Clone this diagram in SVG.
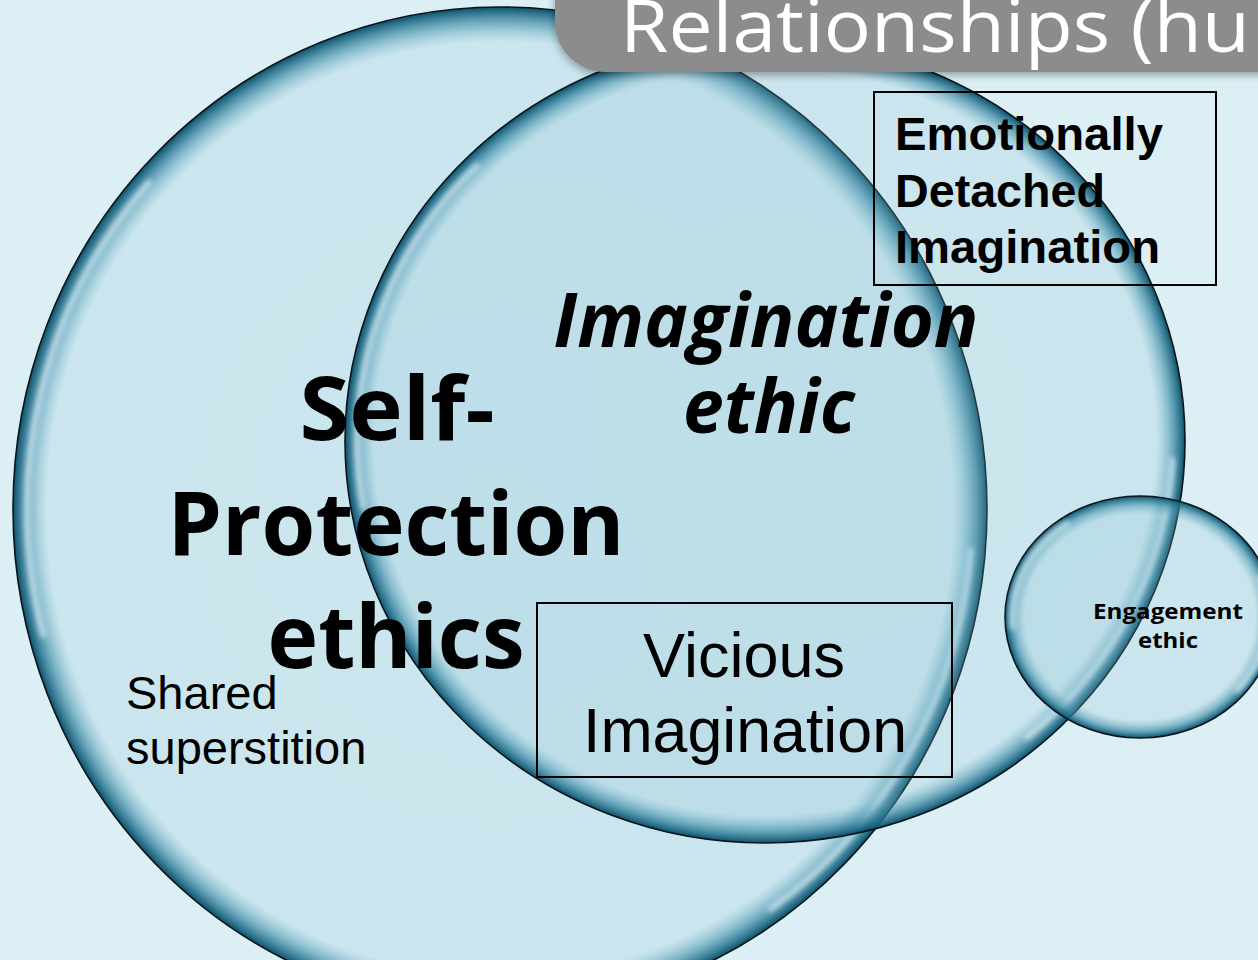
<svg xmlns="http://www.w3.org/2000/svg" width="1258" height="960" viewBox="0 0 1258 960">
<defs>
<radialGradient id="gradL" cx="0.5" cy="0.5" r="0.5">
  <stop offset="0" stop-color="#8cc3d3" stop-opacity="0.2"/>
  <stop offset="0.93" stop-color="#8cc3d3" stop-opacity="0.22"/>
  <stop offset="0.965" stop-color="#3f8faa" stop-opacity="0.6"/>
  <stop offset="0.99" stop-color="#1b6682" stop-opacity="0.9"/>
  <stop offset="1" stop-color="#0f4f66" stop-opacity="1"/>
</radialGradient>
<radialGradient id="gradS" cx="0.5" cy="0.5" r="0.5">
  <stop offset="0" stop-color="#8cc3d3" stop-opacity="0.2"/>
  <stop offset="0.85" stop-color="#8cc3d3" stop-opacity="0.24"/>
  <stop offset="0.93" stop-color="#3f8faa" stop-opacity="0.6"/>
  <stop offset="0.98" stop-color="#1b6682" stop-opacity="0.9"/>
  <stop offset="1" stop-color="#0f4f66" stop-opacity="1"/>
</radialGradient>
<filter id="blur" x="-20%" y="-20%" width="140%" height="140%"><feGaussianBlur stdDeviation="2.5"/></filter>
<filter id="shadow" x="-10%" y="-50%" width="120%" height="200%"><feDropShadow dx="0" dy="3" stdDeviation="4" flood-color="#000" flood-opacity="0.35"/></filter>
</defs>
<style>
.bubble{stroke:#08161c;stroke-width:1.6}
.hl{fill:none;stroke:#eefaff;stroke-width:6;stroke-opacity:0.6;stroke-linecap:round;filter:url(#blur)}
.box{fill:none;stroke:#000;stroke-width:2}
.cal{font-family:"Open Sans",Lato,sans-serif;font-weight:700;fill:#000;text-anchor:middle}
.ar{font-family:"Liberation Sans",Arial,sans-serif;fill:#000}
</style>
<rect width="1258" height="960" fill="#dcEff5"/>

<g id="connectors"></g>

<g id="bubble-self-protection">
  <ellipse class="bubble" cx="500" cy="509" rx="487" ry="502" fill="url(#gradL)"/>
  <path class="hl" d="M43,635 A473 488 0 0 1 148.5,182.5"/>
  <path class="hl" d="M971,551 A473 488 0 0 1 771,909"/>
</g>
<g id="bubble-imagination">
  <ellipse class="bubble" cx="765" cy="441" rx="420" ry="402" fill="url(#gradL)"/>
  <path class="hl" d="M363,507 A408 390 0 0 1 476.5,165.6"/>
  <path class="hl" d="M1172.4,460.3 A408 390 0 0 1 1027.3,737.2"/>
</g>
<g id="bubble-engagement">
  <ellipse class="bubble" cx="1140" cy="617" rx="135" ry="121" fill="url(#gradS)"/>
  <path class="hl" d="M1012.5,627 A128 114 0 0 1 1066.6,523.6"/>
  <path class="hl" d="M1260,578 A128 114 0 0 1 1238,690"/>
</g>

<g id="labels">
  <g id="label-self-protection">
    <text class="cal" font-size="88" x="397" y="440" textLength="195" lengthAdjust="spacingAndGlyphs">Self-</text>
    <text class="cal" font-size="88" x="396" y="555" textLength="457" lengthAdjust="spacingAndGlyphs">Protection</text>
    <text class="cal" font-size="88" x="396" y="668" textLength="257" lengthAdjust="spacingAndGlyphs">ethics</text>
  </g>
  <g id="label-imagination">
    <text class="cal" font-style="italic" font-size="76" x="766" y="347" textLength="425" lengthAdjust="spacingAndGlyphs">Imagination</text>
    <text class="cal" font-style="italic" font-size="76" x="769" y="433" textLength="172" lengthAdjust="spacingAndGlyphs">ethic</text>
  </g>
  <g id="label-shared">
    <text class="ar" font-size="47" x="126" y="709">Shared</text>
    <text class="ar" font-size="47" x="126" y="764">superstition</text>
  </g>
  <g id="label-engagement">
    <text class="cal" font-size="22" x="1168" y="619" textLength="150" lengthAdjust="spacingAndGlyphs">Engagement</text>
    <text class="cal" font-size="22" x="1168" y="648" textLength="60" lengthAdjust="spacingAndGlyphs">ethic</text>
  </g>
  <g id="box-emotionally-detached">
    <rect class="box" x="874" y="92" width="342" height="193"/>
    <text class="ar" font-weight="700" font-size="47" x="895" y="150" textLength="268" lengthAdjust="spacingAndGlyphs">Emotionally</text>
    <text class="ar" font-weight="700" font-size="47" x="895" y="207" textLength="210" lengthAdjust="spacingAndGlyphs">Detached</text>
    <text class="ar" font-weight="700" font-size="47" x="895" y="263" textLength="265" lengthAdjust="spacingAndGlyphs">Imagination</text>
  </g>
  <g id="box-vicious">
    <rect class="box" x="537" y="603" width="415" height="174"/>
    <text class="ar" font-size="63" x="744" y="677" text-anchor="middle">Vicious</text>
    <text class="ar" font-size="63" x="745" y="752" text-anchor="middle" textLength="324" lengthAdjust="spacingAndGlyphs">Imagination</text>
  </g>
</g>

<g id="title-tab">
  <rect x="555" y="-80" width="760" height="152" rx="50" fill="#8c8c8c" filter="url(#shadow)"/>
  <text x="620" y="52" font-family="'Open Sans',Lato,sans-serif" font-size="74" fill="#fff" textLength="630" lengthAdjust="spacingAndGlyphs">Relationships (hu</text>
</g>
</svg>
